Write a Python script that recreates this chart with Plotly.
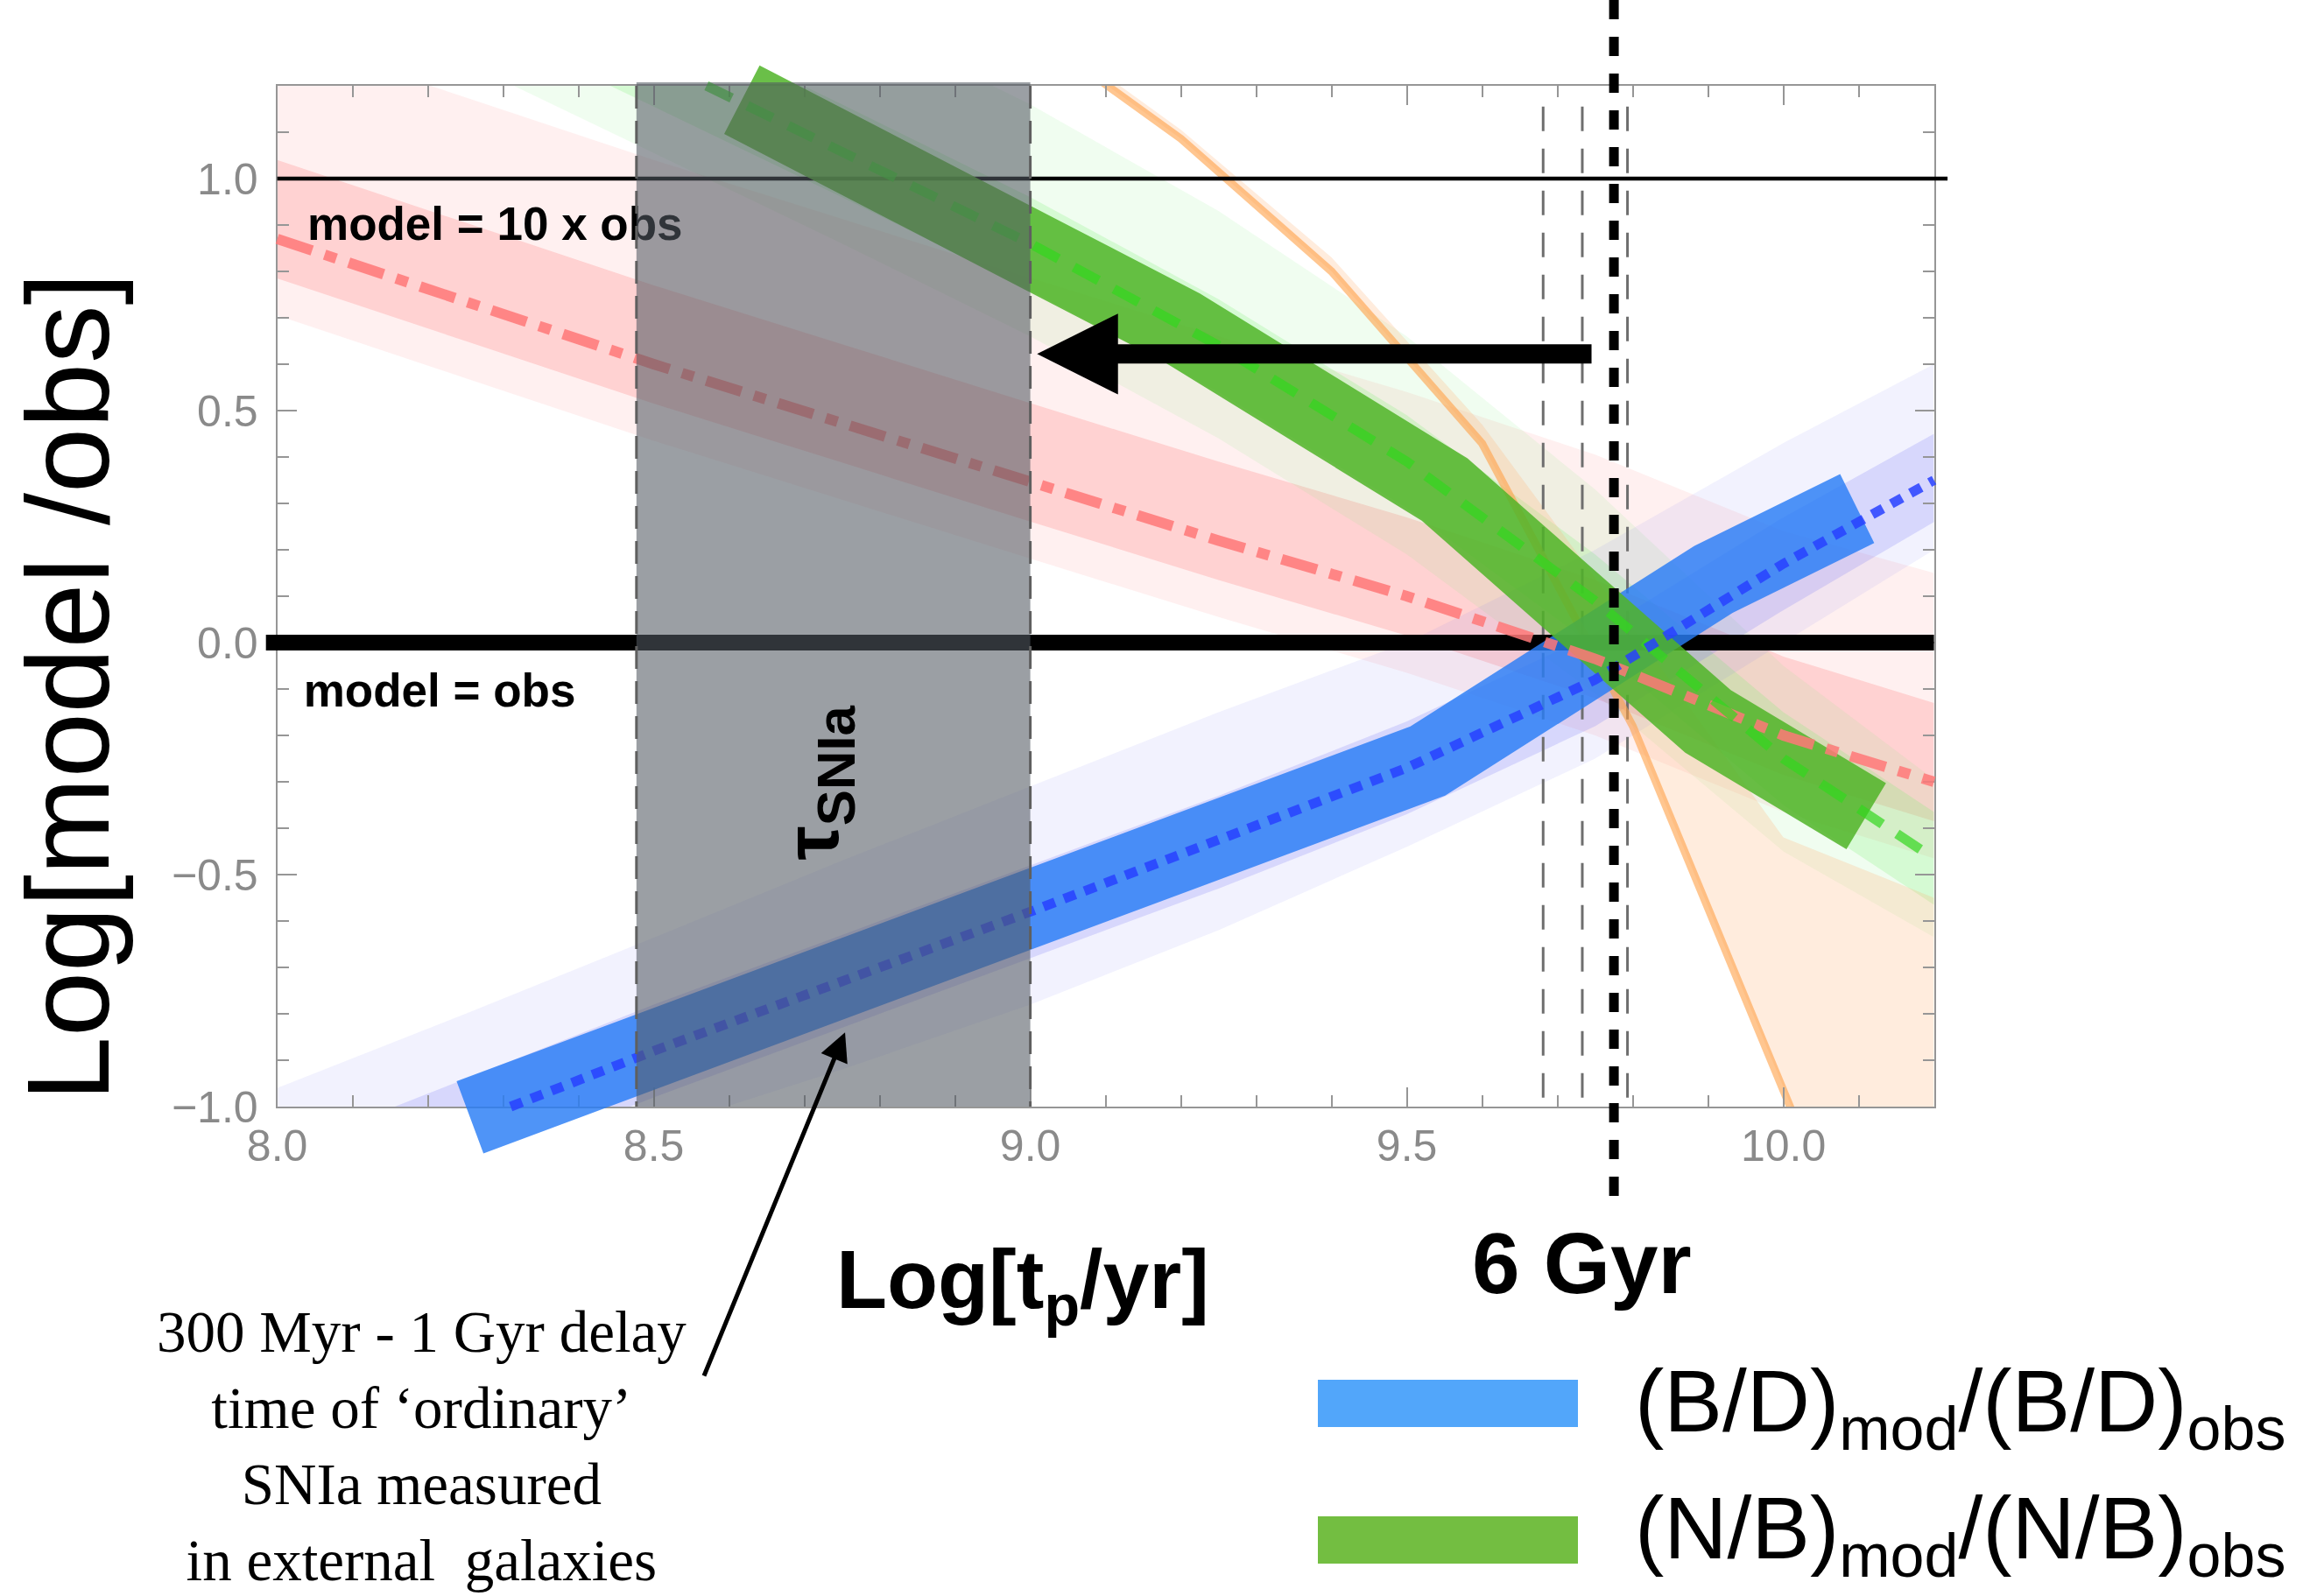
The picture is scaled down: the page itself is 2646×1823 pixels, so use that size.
import plotly.graph_objects as go

# ---------------- data ----------------
# red (dash-dot) model and its uncertainty bands
red_x = [8.0, 8.25, 8.5, 8.75, 9.0, 9.25, 9.5, 9.75, 10.0, 10.2]
red_mid = [0.87, 0.735, 0.60, 0.473, 0.346, 0.22, 0.10, -0.035, -0.20, -0.30]
red_in_hi = [1.04, 0.905, 0.77, 0.643, 0.516, 0.39, 0.27, 0.135, -0.03, -0.13]
red_in_lo = [0.785, 0.65, 0.515, 0.388, 0.261, 0.135, 0.015, -0.12, -0.285, -0.385]
red_out_hi = [1.31, 1.175, 1.04, 0.913, 0.786, 0.66, 0.54, 0.405, 0.24, 0.15]
red_out_lo = [0.705, 0.57, 0.435, 0.308, 0.181, 0.055, -0.065, -0.2, -0.365, -0.465]

# blue (B/D) model: dotted curve, bands, thick fitted band
blue_x = [8.0, 8.25, 8.5, 8.75, 9.0, 9.25, 9.5, 9.75, 10.0, 10.2]
blue_in_hi = [-1.1, -0.94, -0.78, -0.63, -0.48, -0.33, -0.17, 0.02, 0.27, 0.45]
blue_in_lo = [-1.3, -1.14, -0.98, -0.83, -0.68, -0.53, -0.37, -0.18, 0.07, 0.26]
blue_out_hi = [-0.96, -0.80, -0.636, -0.47, -0.31, -0.15, 0.0, 0.2, 0.43, 0.60]
blue_out_lo = [-1.35, -1.2, -1.05, -0.92, -0.78, -0.62, -0.44, -0.25, 0.0, 0.20]
blue_dot_x = [8.31, 8.5, 9.0, 9.5, 9.75, 10.0, 10.2]
blue_dot_y = [-1.0, -0.88, -0.58, -0.27, -0.08, 0.17, 0.35]
blue_fit_x = [8.256, 9.528, 9.907, 10.098]
blue_fit_y = [-1.023, -0.255, 0.136, 0.289]

# green (N/B) model: dashed curve, bands, thick fitted band
green_x = [8.0, 8.25, 8.5, 8.75, 9.0, 9.25, 9.5, 9.75, 10.0, 10.2]
green_in_hi = [1.75, 1.55, 1.355, 1.16, 0.96, 0.74, 0.49, 0.19, -0.15, -0.365]
green_in_lo = [1.55, 1.35, 1.155, 0.96, 0.76, 0.54, 0.29, -0.01, -0.35, -0.565]
green_out_hi = [1.95, 1.75, 1.555, 1.36, 1.16, 0.93, 0.66, 0.33, -0.05, -0.295]
green_out_lo = [1.45, 1.25, 1.055, 0.86, 0.66, 0.44, 0.19, -0.11, -0.45, -0.635]
green_dash_x = [8.57, 8.75, 9.0, 9.25, 9.5, 9.75, 10.0, 10.2]
green_dash_y = [1.2, 1.06, 0.86, 0.64, 0.39, 0.09, -0.25, -0.465]
green_fit_x = [8.617, 9.2, 9.55, 9.9, 10.11]
green_fit_y = [1.17, 0.68, 0.33, -0.17, -0.374]

# orange model and band
orange_x = [9.0, 9.2, 9.4, 9.6, 9.8, 10.0, 10.2]
orange_y = [1.32, 1.086, 0.80, 0.429, -0.18, -0.958, -1.75]
orange_hi = [1.34, 1.105, 0.83, 0.47, 0.03, -0.42, -0.55]

# reference lines / markers
ref_levels = [0.0, 1.0]              # model = obs, model = 10 x obs
tau_snia = [8.477, 9.0]              # log(300 Myr) .. log(1 Gyr)
t_6gyr = 9.775                       # log(6 Gyr)
thin_vlines = [9.681, 9.733, 9.793]
x_ticks = [8.0, 8.5, 9.0, 9.5, 10.0]
y_ticks = [-1.0, -0.5, 0.0, 0.5, 1.0]

# ---------------- layout geometry ----------------
W, H = 2646, 1823
PX_L, PX_R, PX_T, PX_B = 316.6, 2208.6, 98.0, 1264.0
X_RANGE = [8.0, 10.2]
Y_RANGE = [-1.0, 1.2]
sx = (PX_R - PX_L) / (X_RANGE[1] - X_RANGE[0])
sy = (PX_B - PX_T) / (Y_RANGE[1] - Y_RANGE[0])
X2_RANGE = [X_RANGE[0] - PX_L / sx, X_RANGE[0] + (W - PX_L) / sx]
Y2_RANGE = [Y_RANGE[0] - (H - PX_B) / sy, Y_RANGE[1] + PX_T / sy]

GRAY = "rgb(150,150,150)"
SANS = "Liberation Sans, Arial, Helvetica, sans-serif"

fig = go.Figure()


def band(x, hi, lo, color, axes=("x", "y")):
    fig.add_trace(go.Scatter(
        x=list(x) + list(x)[::-1], y=list(hi) + list(lo)[::-1],
        fill="toself", fillcolor=color, mode="none",
        xaxis=axes[0], yaxis=axes[1], hoverinfo="skip", showlegend=False))


def line(x, y, color, width, dash="solid", axes=("x", "y")):
    fig.add_trace(go.Scatter(
        x=x, y=y, mode="lines", line=dict(color=color, width=width, dash=dash),
        xaxis=axes[0], yaxis=axes[1], hoverinfo="skip", showlegend=False))


B = ("x2", "y2")

# ---- clipped layer (inside frame) ----
band(red_x, red_out_hi, red_out_lo, "rgba(255,120,120,0.11)")
band(red_x, red_in_hi, red_in_lo, "rgba(255,120,120,0.25)")
band(green_x, green_out_hi, green_out_lo, "rgba(120,240,120,0.11)")
band(green_x, green_in_hi, green_in_lo, "rgba(120,240,110,0.22)")
band(blue_x, blue_out_hi, blue_out_lo, "rgba(110,110,240,0.09)")
band(blue_x, blue_in_hi, blue_in_lo, "rgba(110,110,245,0.20)")
band(orange_x, orange_hi, orange_y, "rgba(255,180,120,0.25)")
for xv in thin_vlines:
    line([xv, xv], [1.155, Y_RANGE[0]], "rgb(110,110,110)", 3, "28px,20px")
line(orange_x, orange_y, "rgba(255,160,70,0.6)", 9)

# ---- unclipped layer ----
line([7.985, X_RANGE[1]], [ref_levels[0]] * 2, "black", 18, axes=B)
line([X_RANGE[0], 10.218], [ref_levels[1]] * 2, "black", 4.5, axes=B)
line(blue_fit_x, blue_fit_y, "rgba(40,125,245,0.82)", 88, axes=B)
line(green_fit_x, green_fit_y, "rgba(80,180,40,0.85)", 88, axes=B)
line(red_x, red_mid, "rgba(255,120,120,0.85)", 12, "42px,15px,14px,15px", axes=B)
line(green_dash_x, green_dash_y, "rgba(50,215,30,0.7)", 11, "32px,20px", axes=B)
line(blue_dot_x, blue_dot_y, "rgba(40,65,255,0.85)", 11, "14px,11px", axes=B)

fig.add_trace(go.Scatter(
    x=[8.04, 8.035], y=[0.892, -0.112], text=["model = 10 x obs", "model = obs"],
    mode="text", textposition="middle right",
    textfont=dict(family=SANS, size=53, color="black", weight="bold"),
    xaxis="x2", yaxis="y2", hoverinfo="skip", showlegend=False))

# tau_SNIa shaded interval
band([tau_snia[0], tau_snia[1]], [1.2075, 1.2075], [Y_RANGE[0], Y_RANGE[0]],
     "rgba(83,90,98,0.58)", axes=B)
for xv in tau_snia:
    line([xv, xv], [Y_RANGE[1], Y_RANGE[0]], "rgb(95,95,95)", 3, "26px,14px", axes=B)

# 6 Gyr line
line([t_6gyr, t_6gyr], [Y2_RANGE[1], -1.22], "black", 11, "22px,20px", axes=B)

# ---------------- axes ----------------
axis_common = dict(
    showline=True, linecolor=GRAY, linewidth=2, mirror="ticks",
    ticks="inside", ticklen=22, tickwidth=2, tickcolor=GRAY,
    showgrid=False, zeroline=False, tickformat=".1f", automargin=False,
    tickfont=dict(family=SANS, size=50, color="rgb(138,138,138)"),
    minor=dict(dtick=0.1, ticks="inside", ticklen=13, tickwidth=2,
               tickcolor=GRAY, showgrid=False),
)
fig.update_layout(
    template="none",
    xaxis=dict(domain=[PX_L / W, PX_R / W], range=X_RANGE, tickvals=x_ticks,
               anchor="y", ticklabelstandoff=0, **axis_common),
    yaxis=dict(domain=[(H - PX_B) / H, (H - PX_T) / H], range=Y_RANGE,
               tickvals=y_ticks, anchor="x", ticklabelstandoff=10, **axis_common),
    xaxis2=dict(domain=[0, 1], range=X2_RANGE, visible=False, anchor="y2",
                automargin=False),
    yaxis2=dict(domain=[0, 1], range=Y2_RANGE, visible=False, anchor="x2",
                automargin=False),
    width=W, height=H, autosize=False, margin=dict(l=0, r=0, t=0, b=0, pad=0),
    paper_bgcolor="white", plot_bgcolor="rgba(0,0,0,0)",
    showlegend=False, hovermode=False,
)

# ---------------- annotations ----------------
ann = []
ann.append(dict(text="Log[model /obs]", x=78 / W, y=1 - 785 / H, xref="paper",
                yref="paper", textangle=-90, showarrow=False,
                font=dict(family=SANS, size=133, color="black"),
                xanchor="center", yanchor="middle"))
ann.append(dict(text="<b>Log[t<sub>p</sub>/yr]</b>", x=1168 / W, y=1 - 1468 / H,
                xref="paper", yref="paper", showarrow=False,
                font=dict(family=SANS, size=95, color="black"),
                xanchor="center", yanchor="middle"))
ann.append(dict(text="<b>6 Gyr</b>", x=1806 / W, y=1 - 1443 / H, xref="paper",
                yref="paper", showarrow=False,
                font=dict(family=SANS, size=98, color="black"),
                xanchor="center", yanchor="middle"))
ann.append(dict(text="<b>τ<sub>SNIa</sub></b>", x=8.716, y=-0.302, xref="x2",
                yref="y2", textangle=-90, showarrow=False,
                font=dict(family=SANS, size=88, color="black"),
                xanchor="center", yanchor="middle"))
ann.append(dict(text="300 Myr - 1 Gyr delay<br>time of ‘ordinary’<br>SNIa measured<br>in external  galaxies",
                x=481 / W, y=1 - 1651 / H, xref="paper", yref="paper",
                showarrow=False, align="center",
                font=dict(family="Liberation Serif, Times New Roman, serif", size=67, color="black"),
                xanchor="center", yanchor="middle"))
# thin arrow from text to the blue band
ann.append(dict(text="", x=8.754, y=-0.840, ax=8.566, ay=-1.583, xref="x2", yref="y2",
                axref="x2", ayref="y2", showarrow=True, arrowhead=2, arrowwidth=5,
                arrowsize=1.3, arrowcolor="black"))
# big arrow
ann.append(dict(text="", x=9.009, y=0.622, ax=9.747, ay=0.622, xref="x2", yref="y2",
                axref="x2", ayref="y2", showarrow=True, arrowhead=2, arrowwidth=22,
                arrowsize=0.84, arrowcolor="black"))
# legend text
ann.append(dict(text="(B/D)<sub>mod</sub>/(B/D)<sub>obs</sub>", x=1865 / W, y=1 - 1607 / H,
                xref="paper", yref="paper", showarrow=False,
                font=dict(family=SANS, size=100, color="black"),
                xanchor="left", yanchor="middle"))
ann.append(dict(text="(N/B)<sub>mod</sub>/(N/B)<sub>obs</sub>", x=1865 / W, y=1 - 1752 / H,
                xref="paper", yref="paper", showarrow=False,
                font=dict(family=SANS, size=100, color="black"),
                xanchor="left", yanchor="middle"))
fig.update_layout(annotations=ann)

# legend swatches
fig.add_shape(type="rect", xref="paper", yref="paper", x0=1505 / W, x1=1802 / W,
              y0=1 - 1630 / H, y1=1 - 1576 / H, fillcolor="rgb(82,166,250)",
              line=dict(width=0))
fig.add_shape(type="rect", xref="paper", yref="paper", x0=1505 / W, x1=1802 / W,
              y0=1 - 1786 / H, y1=1 - 1732 / H, fillcolor="rgb(115,190,65)",
              line=dict(width=0))

fig.write_html("out.html", config={"displayModeBar": False},
               post_script="document.body.style.margin='0px';"
                           "document.body.style.overflow='hidden';")
